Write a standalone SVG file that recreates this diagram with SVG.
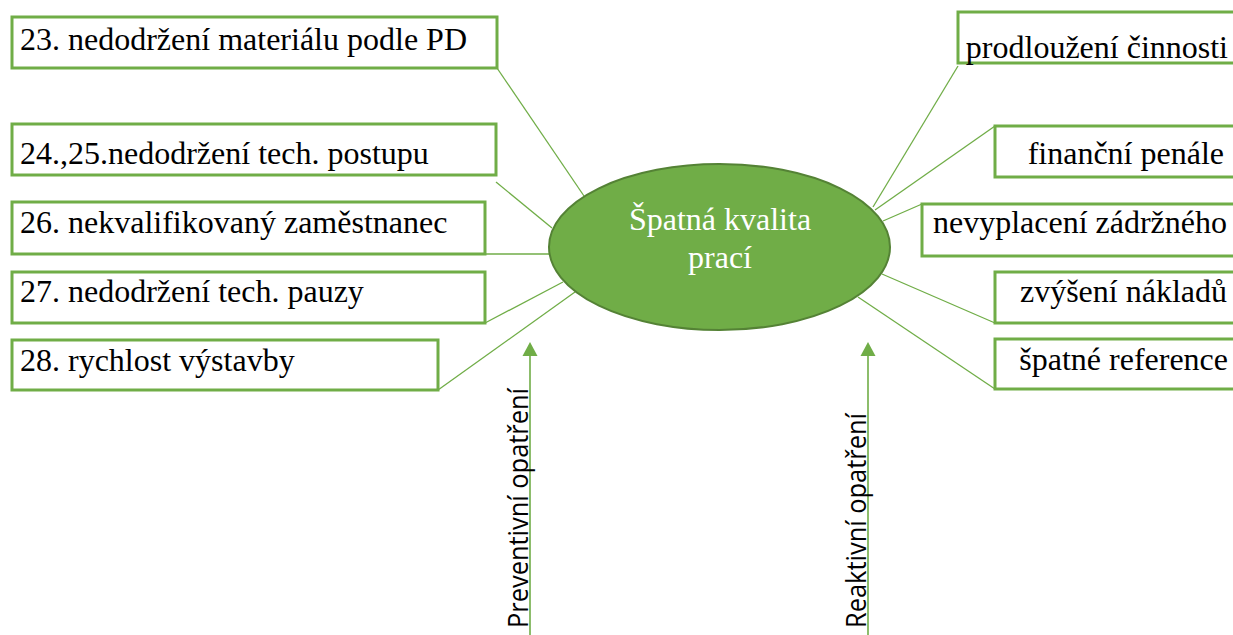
<svg xmlns="http://www.w3.org/2000/svg" width="1233" height="635" viewBox="0 0 1233 635">
<defs>
<style>
.box{fill:#fff;stroke:#70AD47;stroke-width:3}
.t{font-family:"Liberation Serif","Times New Roman",serif;font-size:32px;fill:#000}
.c{stroke:#70AD47;stroke-width:1.3;fill:none}
.a{stroke:#70AD47;stroke-width:1.6;fill:none}
.s{font-family:"Open Sans","Noto Sans",sans-serif;font-size:28px;fill:#000}
</style>
</defs>
<rect width="1233" height="635" fill="#fff"/>
<g id="connectors">
<line class="c" x1="497" y1="68" x2="584" y2="196"/>
<line class="c" x1="496" y1="182" x2="552" y2="228"/>
<line class="c" x1="485" y1="254" x2="550" y2="254"/>
<line class="c" x1="485" y1="323" x2="563" y2="282"/>
<line class="c" x1="438" y1="390" x2="575" y2="292"/>
<line class="c" x1="958" y1="66" x2="873" y2="207"/>
<line class="c" x1="995" y1="126" x2="875" y2="210"/>
<line class="c" x1="922" y1="204" x2="883" y2="221"/>
<line class="c" x1="995" y1="323" x2="882" y2="274"/>
<line class="c" x1="995" y1="389" x2="858" y2="297"/>
<g id="arrow-preventivni">
<line class="a" x1="530" y1="635" x2="530" y2="356"/>
<path d="M522.5,356 L530,342 L537.5,356 z" fill="#70AD47"/>
</g>
<g id="arrow-reaktivni">
<line class="a" x1="868" y1="635" x2="868" y2="356"/>
<path d="M860.5,356 L868,342 L875.5,356 z" fill="#70AD47"/>
</g>
</g>
<g id="center">
<ellipse cx="719.5" cy="247" rx="170.5" ry="83" fill="#70AD47" stroke="#548235" stroke-width="2"/>
<text class="t" x="720" y="230" text-anchor="middle" style="fill:#fff">Špatná kvalita</text>
<text class="t" x="720" y="268" text-anchor="middle" style="fill:#fff">prací</text>
</g>
<g id="n23"><rect class="box" x="12" y="17" width="485" height="51"/><text class="t" x="20" y="50">23. nedodržení materiálu podle PD</text></g>
<g id="n24"><rect class="box" x="12" y="124" width="484" height="51"/><text class="t" x="20" y="164">24.,25.nedodržení tech. postupu</text></g>
<g id="n26"><rect class="box" x="12" y="202" width="473" height="52"/><text class="t" x="20" y="233">26. nekvalifikovaný zaměstnanec</text></g>
<g id="n27"><rect class="box" x="12" y="272" width="473" height="51"/><text class="t" x="20" y="302">27. nedodržení tech. pauzy</text></g>
<g id="n28"><rect class="box" x="12" y="340" width="426" height="50"/><text class="t" x="20" y="371">28. rychlost výstavby</text></g>
<g id="r1"><rect class="box" x="958" y="12" width="290" height="51"/><text class="t" x="1228" y="58" text-anchor="end">prodloužení činnosti</text></g>
<g id="r2"><rect class="box" x="995" y="126" width="253" height="51"/><text class="t" x="1224" y="164" text-anchor="end">finanční penále</text></g>
<g id="r3"><rect class="box" x="922" y="204" width="326" height="52"/><text class="t" x="1227" y="233" text-anchor="end">nevyplacení zádržného</text></g>
<g id="r4"><rect class="box" x="995" y="272" width="253" height="51"/><text class="t" x="1227" y="302" text-anchor="end">zvýšení nákladů</text></g>
<g id="r5"><rect class="box" x="995" y="339" width="253" height="50"/><text class="t" x="1228" y="370" text-anchor="end">špatné reference</text></g>
<g id="label-preventivni"><text class="s" transform="translate(528,628) rotate(-90)" textLength="240" lengthAdjust="spacingAndGlyphs">Preventivní opatření</text></g>
<g id="label-reaktivni"><text class="s" transform="translate(866,628) rotate(-90)" textLength="215" lengthAdjust="spacingAndGlyphs">Reaktivní opatření</text></g>
</svg>
